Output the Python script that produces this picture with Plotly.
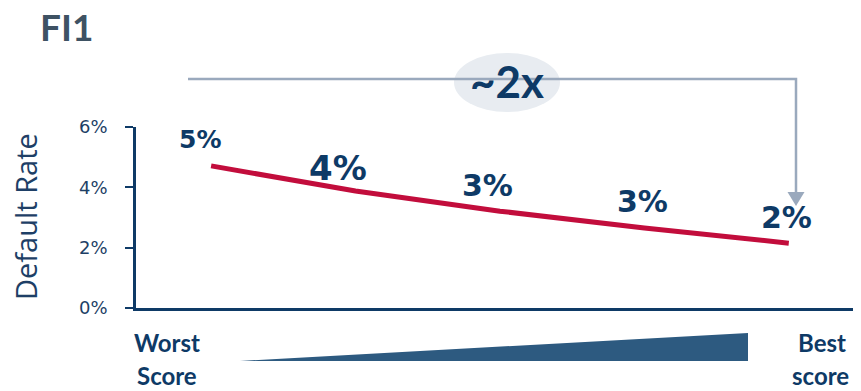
import plotly.graph_objects as go

# ---- data ----
score_bucket = [1, 2, 3, 4, 5]
default_rate = [4.71, 3.88, 3.21, 2.65, 2.15]
rate_labels = ["5%", "4%", "3%", "3%", "2%"]
label_sizes = [25, 34, 30, 30, 30]
label_xshift = [-11, -18, -12, -2, -2]
label_yshift = [26, 23, 26, 27, 26]
y_ticks = [0, 2, 4, 6]
y_tick_labels = ["0%", "2%", "4%", "6%"]

OFF = 8  # page body margin
W, H = 861 - OFF, 391 - OFF
L, R, T, B = 136 - OFF, 0, 127 - OFF, 391 - 308
PW, PH = W - L - R, H - T - B

def px(x):
    return (x - OFF - L) / PW

def py(y):
    return (H - B - (y - OFF)) / PH

NAVY = "#0e3a66"
BOLD_FONT = "'DejaVu Sans', sans-serif"
TXT_FONT = "Lato, 'Open Sans', sans-serif"
GREY = "#9aa9bd"

fig = go.Figure()
fig.add_trace(go.Scatter(
    x=score_bucket, y=default_rate, mode="lines",
    line=dict(color="#c20d3c", width=5),
    hoverinfo="skip", showlegend=False,
))

def txt(x, y, t, size, color=NAVY, family=TXT_FONT, **kw):
    d = dict(xref="paper", yref="paper", x=px(x), y=py(y), text=t, showarrow=False,
             xanchor="center", yanchor="middle",
             font=dict(size=size, color=color, family=family))
    d.update(kw)
    return d

ann = []
for x, y, t, s, dx, dy in zip(score_bucket, default_rate, rate_labels, label_sizes,
                              label_xshift, label_yshift):
    ann.append(dict(x=x, y=y, text=f"<b>{t}</b>", showarrow=False, xshift=dx, yshift=dy,
                    xanchor="center", yanchor="middle",
                    font=dict(size=s, color=NAVY, family=BOLD_FONT)))

ann += [
    txt(66, 26, "<b>FI1</b>", 37, color="#3e5263"),
    txt(507, 81, "<b>~2x</b>", 44),
    txt(167, 342, "<b>Worst</b>", 24),
    txt(167, 375, "<b>Score</b>", 24),
    txt(822, 342, "<b>Best</b>", 24),
    txt(820, 375, "<b>score</b>", 24),
    txt(25, 217, "Default Rate", 29, color="#1e3f66", family="'Open Sans', sans-serif",
        textangle=-90),
]

shapes = [
    dict(type="path", xref="paper", yref="paper",
         path=f"M {px(188)},{py(79)} L {px(796)},{py(79)} L {px(796)},{py(193)}",
         line=dict(color=GREY, width=2.5)),
    dict(type="path", xref="paper", yref="paper",
         path=f"M {px(787.5)},{py(192)} L {px(804.5)},{py(192)} L {px(796)},{py(206)} Z",
         fillcolor=GREY, line=dict(width=0)),
    dict(type="circle", xref="paper", yref="paper",
         x0=px(454), x1=px(560), y0=py(53), y1=py(112),
         fillcolor="#e8ecf1", line=dict(width=0), layer="below"),
    dict(type="path", xref="paper", yref="paper",
         path=f"M {px(240)},{py(361)} L {px(748)},{py(333)} L {px(748)},{py(361)} Z",
         fillcolor="#2d5a80", line=dict(width=0)),
]

fig.update_layout(
    width=W, height=H, margin=dict(l=L, r=R, t=T, b=B),
    paper_bgcolor="white", plot_bgcolor="white",
    annotations=ann, shapes=shapes,
    xaxis=dict(range=[0.48, 5.5], showgrid=False, zeroline=False, showticklabels=False,
               showline=True, linecolor=NAVY, linewidth=2.5, ticks=""),
    yaxis=dict(range=[0, 6], tickvals=y_ticks, ticktext=y_tick_labels, showgrid=False,
               zeroline=False, showline=True, linecolor=NAVY, linewidth=2.5,
               ticks="outside", ticklen=8, tickcolor=NAVY, tickwidth=2,
               ticklabelstandoff=14,
               tickfont=dict(size=18, color="#1e3f66", family="'DejaVu Sans', sans-serif")),
)

fig.write_html("out.html")
